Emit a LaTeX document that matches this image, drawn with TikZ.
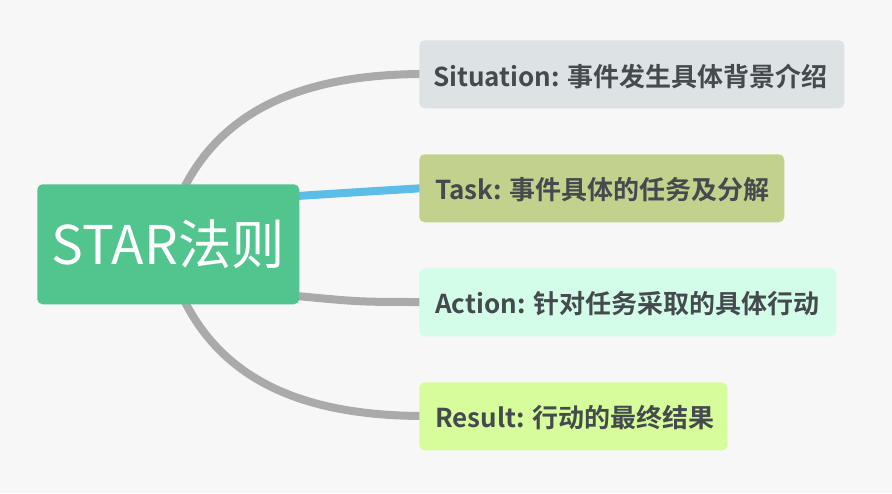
\documentclass[tikz,border=0pt]{standalone}
\usepackage{fontspec}
\setmainfont{Noto Sans CJK SC}[BoldFont={Noto Sans CJK SC Bold}]
\definecolor{bgc}{HTML}{F7F7F7}
\definecolor{rootc}{HTML}{52C48D}
\definecolor{sc}{HTML}{DDE3E4}
\definecolor{tc}{HTML}{C2D18C}
\definecolor{ac}{HTML}{D3FDE8}
\definecolor{rc}{HTML}{D6FC9B}
\definecolor{txt}{HTML}{444A4E}
\definecolor{linec}{HTML}{AAAAAA}
\definecolor{bluec}{HTML}{5BBDE8}
\begin{document}
\begin{tikzpicture}[x=0.75pt,y=-0.75pt,
  leaf/.style={anchor=north west,rounded corners=4pt,inner sep=0pt,minimum height=51pt},
  lbl/.style={anchor=west,inner sep=0pt,font=\bfseries\fontsize{19.5}{23}\selectfont,text=txt},
  conn/.style={line width=6pt,linec}]
\fill[bgc] (0,0) rectangle (892,493);
\useasboundingbox (0,0) rectangle (892,493);
\coordinate (s1) at (185,186);
\coordinate (r1) at (185,302);
\coordinate (a1) at (297,296);
\coordinate (t1) at (297,196);
\draw[conn] (s1) .. controls (230,100) and (320,74) .. (425,74);
\draw[conn,bluec] (t1) .. controls (360,192) .. (425,188);
\draw[conn] (a1) .. controls (360,302) .. (425,302);
\draw[conn] (r1) .. controls (230,390) and (320,416) .. (425,416);
\node[fill=rootc,rounded corners=4pt,anchor=north west,minimum width=196.5pt,minimum height=90pt,text=white,font=\fontsize{40}{46}\selectfont] (root) at (37,184) {STAR法则};
\node[leaf,fill=sc,minimum width=318.75pt] (s) at (419,40) {};
\node[leaf,fill=tc,minimum width=273.75pt] (t) at (419,154) {};
\node[leaf,fill=ac,minimum width=312.75pt] (a) at (419,268) {};
\node[leaf,fill=rc,minimum width=231pt] (r) at (419,382) {};
\node[lbl] (sl) at (433,76) {Situation: 事件发生具体背景介绍};
\node[lbl] (tl) at (435,190) {Task: 事件具体的任务及分解};
\node[lbl] (al) at (435,304) {Action: 针对任务采取的具体行动};
\node[lbl] (rl) at (435,418) {Result: 行动的最终结果};
\end{tikzpicture}
\end{document}
